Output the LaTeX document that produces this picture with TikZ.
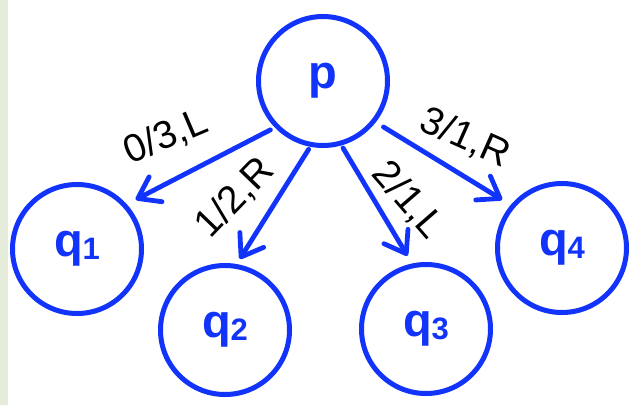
\documentclass[tikz,border=0pt]{standalone}
\usepackage{fontspec}
\setmainfont{Liberation Sans}
\usetikzlibrary{arrows.meta,shadows}
\definecolor{nodeblue}{RGB}{18,52,250}
\definecolor{stripgreen}{RGB}{228,235,216}
\tikzset{
  state/.style={circle, draw=nodeblue, line width=5pt, fill=white,
    minimum size=129pt, inner sep=0pt, text=nodeblue,
    font=\fontsize{47}{47}\selectfont\bfseries,
    drop shadow={shadow xshift=0.5pt, shadow yshift=-2.5pt, opacity=0.18}},
  trans/.style={draw=nodeblue, line width=4.8pt, line cap=round,
    -{Straight Barb[round, length=20pt, width=28pt]}},
  lbl/.style={font=\fontsize{39}{39}\selectfont, text=black, inner sep=0pt}
}
\newcommand{\qsub}[1]{q\raisebox{-3pt}{\fontsize{31}{31}\selectfont #1}}
\begin{document}
\begin{tikzpicture}[x=1pt,y=-1pt]
  \useasboundingbox (0,0) rectangle (635,405);
  \fill[stripgreen] (0,0) rectangle (8,405);
  \node[state] (p)  at (323,81)  {p};
  \node[state] (q1) at (77,249)  {\qsub{1}};
  \node[state] (q2) at (225,330) {\qsub{2}};
  \node[state] (q3) at (426,329) {\qsub{3}};
  \node[state] (q4) at (562,248) {\qsub{4}};
  \draw[trans, shorten <=5pt, shorten >=10pt] (p.224) -- (q1.42);
  \draw[trans, shorten <=3pt, shorten >=6pt] (p.259) -- (q2.80);
  \draw[trans, shorten <=3pt, shorten >=9pt] (p.286) -- (q3.102);
  \draw[trans, shorten <=9pt, shorten >=10pt] (p.322) -- (q4.140);
  \node[lbl, rotate=23]  (l1) at (166,137) {0/3,L};
  \node[lbl, rotate=46]  (l2) at (235,198) {1/2,R};
  \node[lbl, rotate=-49] (l3) at (408,200) {2/1,L};
  \node[lbl, rotate=-24] (l4) at (465,138) {3/1,R};
\end{tikzpicture}
\end{document}
